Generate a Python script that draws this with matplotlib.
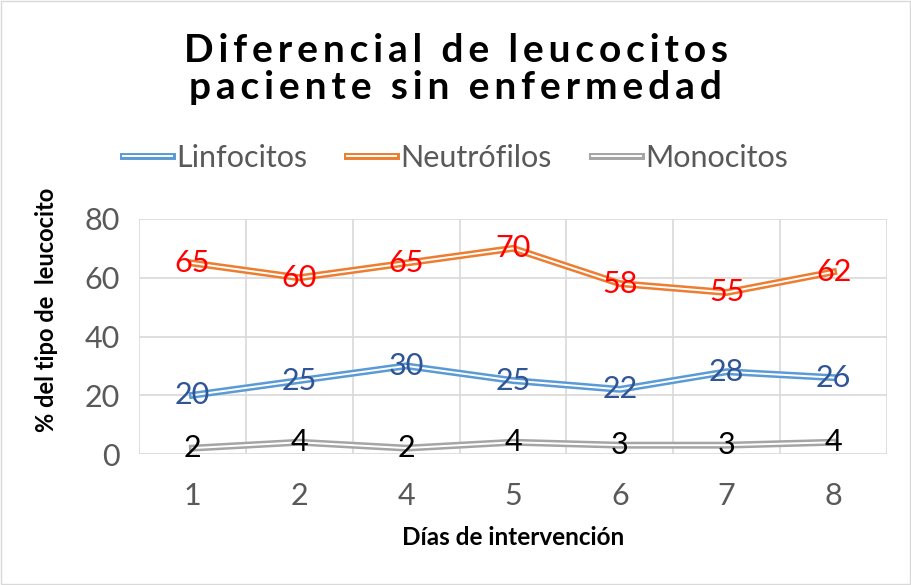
import matplotlib
matplotlib.use("Agg")
import matplotlib.pyplot as plt
import matplotlib.patheffects as pe
from matplotlib.lines import Line2D

categories = ["1", "2", "4", "5", "6", "7", "8"]
linfocitos = [20, 25, 30, 25, 22, 28, 26]
neutrofilos = [65, 60, 65, 70, 58, 55, 62]
monocitos = [2, 4, 2, 4, 3, 3, 4]

series = [
    ("Linfocitos", linfocitos, "#5B9BD5", "#2F5597"),
    ("Neutrófilos", neutrofilos, "#ED7D31", "#FF0000"),
    ("Monocitos", monocitos, "#A5A5A5", "#000000"),
]

plt.rcParams['font.family'] = ['Lato', 'DejaVu Sans']

fig = plt.figure(figsize=(9.11, 5.85), dpi=100)
ax = fig.add_axes([139/911, 1-454/585, (887-139)/911, (454-219)/585])

x = list(range(len(categories)))
handles = []
for name, vals, col, lcol in series:
    ax.plot(x, vals, color=col, lw=5.0, solid_joinstyle='miter', zorder=3)
    ax.plot(x, vals, color='white', lw=1.4, solid_joinstyle='miter', zorder=4)
    for xi, v in zip(x, vals):
        ax.text(xi, v, str(v), color=lcol, fontsize=22, ha='center', va='center', zorder=5)
    h = Line2D([0], [0], color=col, lw=5.0,
               path_effects=[pe.Stroke(linewidth=5.0, foreground=col), pe.Stroke(linewidth=1.4, foreground='white')])
    handles.append(h)

ax.set_xlim(-0.5, len(categories) - 0.5)
ax.set_ylim(0, 80)
ax.set_yticks([0, 20, 40, 60, 80])
ax.set_xticks(x)
ax.set_xticklabels(categories)
ax.set_xticks([i - 0.5 for i in range(len(categories) + 1)], minor=True)
ax.grid(False)
ax.grid(True, which='minor', axis='x', color='#D9D9D9', lw=1.2)
ax.grid(True, which='major', axis='y', color='#D9D9D9', lw=1.2)
ax.set_axisbelow(True)
for s in ax.spines.values():
    s.set_visible(False)
ax.tick_params(axis='both', which='both', length=0, labelsize=22, labelcolor='#595959')
ax.tick_params(axis='x', pad=20)
ax.tick_params(axis='y', pad=14)

ax.set_xlabel("Días de intervención", fontsize=17.5, fontweight='bold', labelpad=12)
ax.set_ylabel("% del tipo de  leucocito", fontsize=17, fontweight='bold')
ax.yaxis.set_label_coords(-0.123, 0.613)
ax.yaxis.label.set_va('center')

title = "Diferencial de leucocitos\npaciente sin enfermedad"
spaced = "\n".join("\u2009".join(line) for line in title.split("\n"))
fig.text(0.5, 1 - 69/585, spaced, ha='center', va='center', fontsize=28, fontweight='bold', linespacing=1.1)

leg = fig.legend(handles, [s[0] for s in series], loc='center', bbox_to_anchor=(0.5, 1 - 158/585),
                 ncol=3, frameon=False, fontsize=22, handlelength=1.6, handletextpad=0.15, columnspacing=1.3)
for t in leg.get_texts():
    t.set_color('#595959')

fig.patches.append(plt.Rectangle((1/911, 1/585), 909/911, 583/585, transform=fig.transFigure,
                                 fill=False, edgecolor='#D9D9D9', lw=1))

fig.savefig("out.png", dpi=100)
